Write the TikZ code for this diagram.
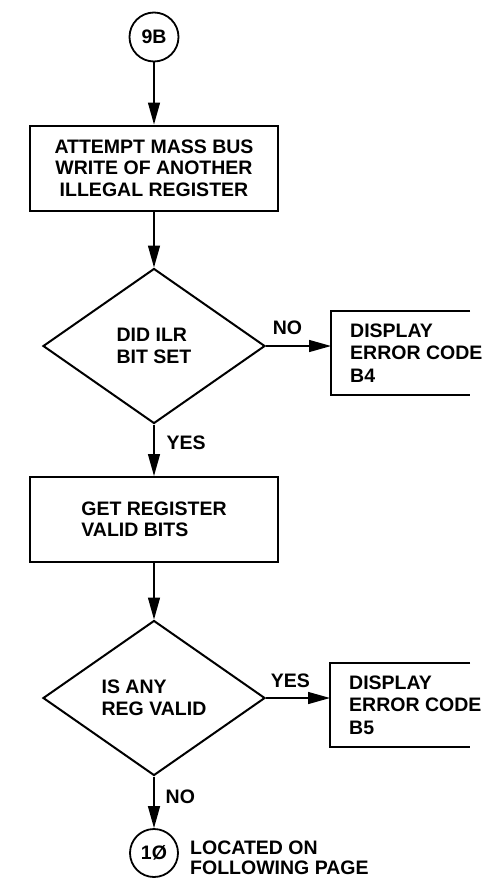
\documentclass[tikz,border=0pt]{standalone}
\usepackage{fontspec}
\setmainfont{Liberation Sans}
\usetikzlibrary{arrows.meta,shapes.geometric}
\begin{document}
\begin{tikzpicture}[x=1pt,y=-1pt,
  every node/.style={font=\bfseries\fontsize{19.5}{21.5}\selectfont,inner sep=0pt},
  conn/.style={draw,line width=1.8pt,circle,minimum size=49pt},
  procbox/.style={draw,line width=2pt,minimum width=248pt,minimum height=85pt},
  decision/.style={draw,line width=2pt,diamond,minimum width=222pt,minimum height=155pt,align=left},
  errbox/.style={anchor=west,inner xsep=19pt,minimum height=83pt,align=left,font=\bfseries\fontsize{19.5}{22.5}\selectfont},
  frame/.style={line width=2pt},
  flowarrow/.style={line width=1.4pt,-{Triangle[length=22pt,width=12pt]}}]
\useasboundingbox (0,0) rectangle (494,884);
% main column
\node[conn] (c9b) at (154,37) {9B};
\node[procbox,align=center] (attempt) at (154,168) {ATTEMPT MASS BUS\\WRITE OF ANOTHER\\ILLEGAL REGISTER};
\node[decision] (ilr) at (154,346) {DID ILR\\BIT SET};
\node[procbox,align=left] (getreg) at (154,519.5) {GET REGISTER\\VALID BITS};
\node[decision] (valid) at (154,698) {IS ANY\\REG VALID};
\node[conn,minimum size=48pt] (c10) at (154,853) {1Ø};
\node[anchor=west,align=left,font=\bfseries\fontsize{19.5}{20}\selectfont] (note) at (190,858) {LOCATED ON\\FOLLOWING PAGE};
% error exits, open on the right
\node[errbox] (err4) at (331,353) {DISPLAY\\ERROR CODE\\B4};
\draw[frame] ([xshift=139pt]err4.north west) -- (err4.north west) -- (err4.south west) -- ([xshift=139pt]err4.south west);
\node[errbox] (err5) at (330,705) {DISPLAY\\ERROR CODE\\B5};
\draw[frame] ([xshift=140pt]err5.north west) -- (err5.north west) -- (err5.south west) -- ([xshift=140pt]err5.south west);
% connectors
\draw[flowarrow] (c9b) -- (attempt);
\draw[flowarrow] (attempt) -- (ilr);
\draw[flowarrow] (ilr.east) -- node[pos=0.33,above=11pt] {NO} (ilr.east -| err4.west);
\draw[flowarrow] (ilr.south) -- node[pos=0.36,right=12pt] {YES} (getreg.north);
\draw[flowarrow] (getreg) -- (valid);
\draw[flowarrow] (valid.east) -- node[pos=0.38,above=10pt] {YES} (valid.east -| err5.west);
\draw[flowarrow] (valid.south) -- node[pos=0.39,right=11pt] {NO} (c10.north);
\end{tikzpicture}
\end{document}
